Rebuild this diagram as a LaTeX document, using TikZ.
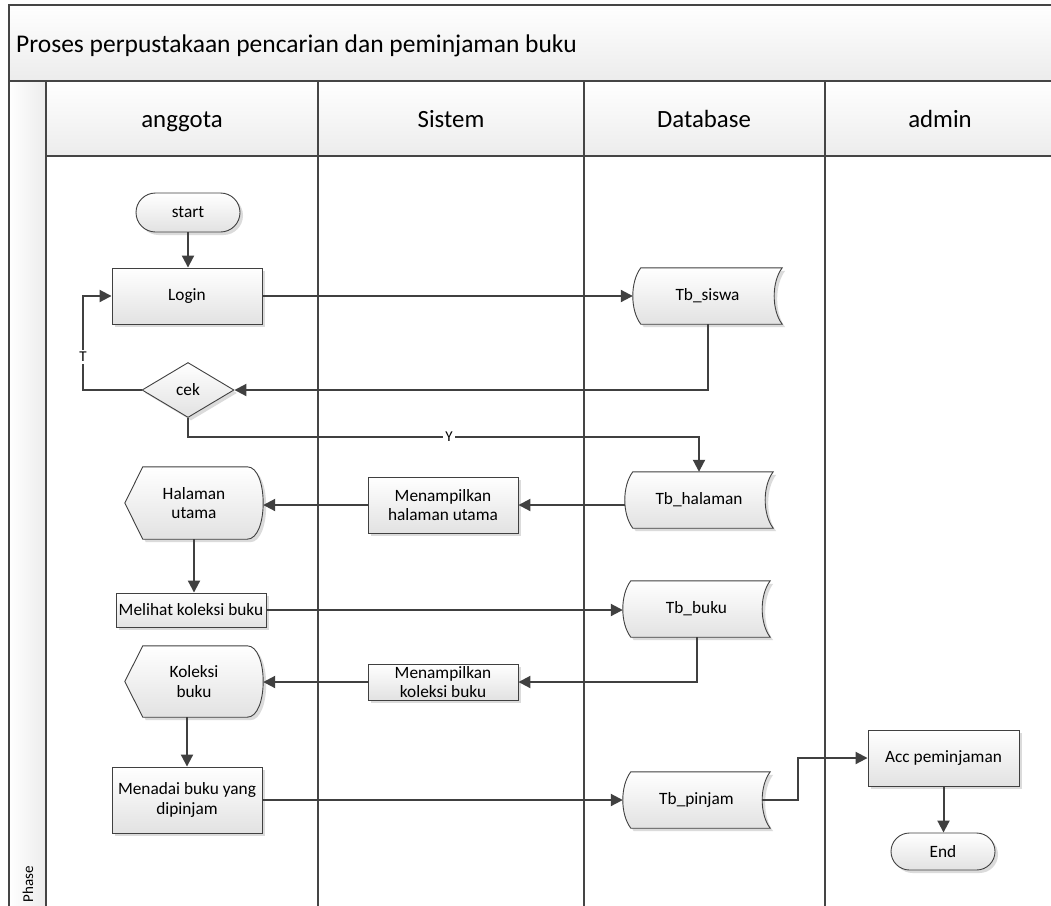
\documentclass[tikz,border=0pt]{standalone}
\usepackage{fontspec}
\setmainfont{Carlito}
\usetikzlibrary{arrows.meta,shapes.geometric,shapes.misc,shadows,calc}
\definecolor{linec}{HTML}{404040}
\definecolor{lanec}{HTML}{454545}
\definecolor{boxbot}{HTML}{E2E2E2}
\definecolor{hdrbot}{HTML}{ECECEC}
\newcommand\sdshape[1]{%
  \path[shapebox] ($(#1.north west)+(8,0)$) -- (#1.north east)
    .. controls ($(#1.north east)+(-10.7,-14)$) and ($(#1.south east)+(-10.7,14)$) .. (#1.south east)
    -- ($(#1.south west)+(8,0)$)
    .. controls ($(#1.south west)+(-2.7,14)$) and ($(#1.north west)+(-2.7,-14)$) .. cycle;}
\newcommand\dispshape[1]{%
  \path[shapebox] (#1.west) -- ($(#1.north west)+(18,0)$) -- ($(#1.north east)+(-16,0)$)
    .. controls ($(#1.north east)+(5.3,0)$) and ($(#1.south east)+(5.3,0)$) .. ($(#1.south east)+(-16,0)$)
    -- ($(#1.south west)+(18,0)$) -- cycle;}
\tikzset{
  lane/.style={draw=lanec,line width=1.6pt},
  nodefont/.style={font=\fontsize{17.3}{19.5}\selectfont},
  shapebox/.style={draw=linec,line width=0.9pt,top color=white,bottom color=boxbot,
    drop shadow={shadow xshift=3pt,shadow yshift=-3pt,fill=black!14,opacity=1}},
  proc/.style={shape=rectangle,shapebox,nodefont,align=center,inner sep=1pt},
  term/.style={shape=rounded rectangle,shapebox,nodefont,minimum width=108pt,inner sep=2pt},
  dec/.style={shape=diamond,shapebox,nodefont,inner sep=0pt},
  ghost/.style={shape=rectangle,draw=none,nodefont,align=center,inner sep=0pt},
  conn/.style={draw=linec,line width=2pt,-{Triangle[length=12pt,width=12pt]}},
  lbl/.style={fill=white,inner xsep=2pt,inner ysep=2.5pt,font=\fontsize{15}{17}\selectfont},
  hdr/.style={anchor=base,font=\fontsize{24.8}{28}\selectfont}
}
\begin{document}
\begin{tikzpicture}[x=1pt,y=1pt]
\useasboundingbox (0,0) rectangle (1051,-905);
% background bands
\path[top color=white,bottom color=hdrbot] (9,-5) rectangle (1060,-81);
\path[top color=white,bottom color=hdrbot] (46,-81) rectangle (1060,-156);
\path[left color=white,right color=hdrbot] (9,-81) rectangle (46,-910);
% frame and lanes
\draw[lane] (9,-910) -- (9,-5) -- (1060,-5);
\draw[lane] (9,-81) -- (1060,-81);
\draw[lane] (46,-81) -- (46,-910);
\draw[lane] (46,-156) -- (1060,-156);
\draw[lane] (318,-81) -- (318,-910);
\draw[lane] (584,-81) -- (584,-910);
\draw[lane] (825,-81) -- (825,-910);
% texts of the frame
\node[anchor=base west,font=\fontsize{25.5}{30}\selectfont,inner sep=0pt] (title) at (16,-52) {Proses perpustakaan pencarian dan peminjaman buku};
\node[hdr] (h1) at (182,-127) {anggota};
\node[hdr] (h2) at (451,-127) {Sistem};
\node[hdr] (h3) at (704,-127) {Database};
\node[hdr] (h4) at (940,-127) {admin};
\node[rotate=90,font=\fontsize{15}{18}\selectfont] (phase) at (28,-884) {Phase};
% nodes
\node[term,minimum height=39pt] (start) at (188,-212.5) {start};
\node[proc,minimum width=150pt,minimum height=56pt] (login) at (187,-296) {Login};
\node[ghost,minimum width=149pt,minimum height=56pt] (ts) at (707.5,-296) {};
\node[dec,minimum width=92pt,minimum height=55pt] (cek) at (188,-390) {cek};
\node[ghost,minimum width=148pt,minimum height=56pt] (th) at (699,-500) {};
\node[proc,minimum width=150pt,minimum height=56pt] (mh) at (443,-505) {Menampilkan\\halaman utama};
\node[ghost,minimum width=138pt,minimum height=72pt] (hal) at (194,-503) {};
\node[proc,minimum width=150pt,minimum height=34pt] (mel) at (191,-610) {Melihat koleksi buku};
\node[ghost,minimum width=147pt,minimum height=56pt] (tb) at (696.5,-609) {};
\node[proc,minimum width=150pt,minimum height=36pt] (mk) at (443,-682) {Menampilkan\\koleksi buku};
\node[ghost,minimum width=138pt,minimum height=71pt] (kol) at (194,-681.5) {};
\node[proc,minimum width=150pt,minimum height=66pt] (men) at (187,-800) {Menadai buku yang\\dipinjam};
\node[ghost,minimum width=147pt,minimum height=56pt] (tp) at (696.5,-800) {};
\node[proc,minimum width=151pt,minimum height=56pt] (acc) at (943.5,-758) {Acc peminjaman};
\node[term,minimum height=37pt] (end) at (943,-851.5) {End};
% custom shapes
\sdshape{ts}\sdshape{th}\sdshape{tb}\sdshape{tp}
\dispshape{hal}\dispshape{kol}
\node[ghost] at (ts) {Tb\_siswa};
\node[ghost] at (th) {Tb\_halaman};
\node[ghost] at (tb) {Tb\_buku};
\node[ghost] at (tp) {Tb\_pinjam};
\node[ghost] at (hal) {Halaman\\utama};
\node[ghost] at (kol) {Koleksi\\buku};
% connectors
\coordinate (tl) at (83,-390);
\coordinate (yc) at (699,-437);
\coordinate (pj) at (798,-758);
\draw[conn] (start.south) -- (start.south |- login.north);
\draw[conn] (login.east) -- (ts.west);
\draw[conn] (ts.south) |- (cek.east);
\draw[conn] (cek.west) -- (tl) |- (login.west);
\draw[conn] (cek.south) |- (yc) -- (th.north);
\draw[conn] (th.west |- mh.east) -- (mh.east);
\draw[conn] (mh.west) -- (hal.east |- mh.west);
\draw[conn] (hal.south) -- (hal.south |- mel.north);
\draw[conn] (mel.east) -- (tb.west |- mel.east);
\draw[conn] (tb.south) |- (mk.east);
\draw[conn] (mk.west) -- (kol.east |- mk.west);
\draw[conn] (kol.south -| men.north) -- (men.north);
\draw[conn] (men.east) -- (tp.west |- men.east);
\draw[conn] ([xshift=-8pt]tp.east) -| (pj) -- (acc.west);
\draw[conn] (acc.south) -- (acc.south |- end.north);
% connector labels
\node[lbl] (tlab) at (83,-357) {T};
\node[lbl] (ylab) at (449,-437) {Y};
\end{tikzpicture}
\end{document}
